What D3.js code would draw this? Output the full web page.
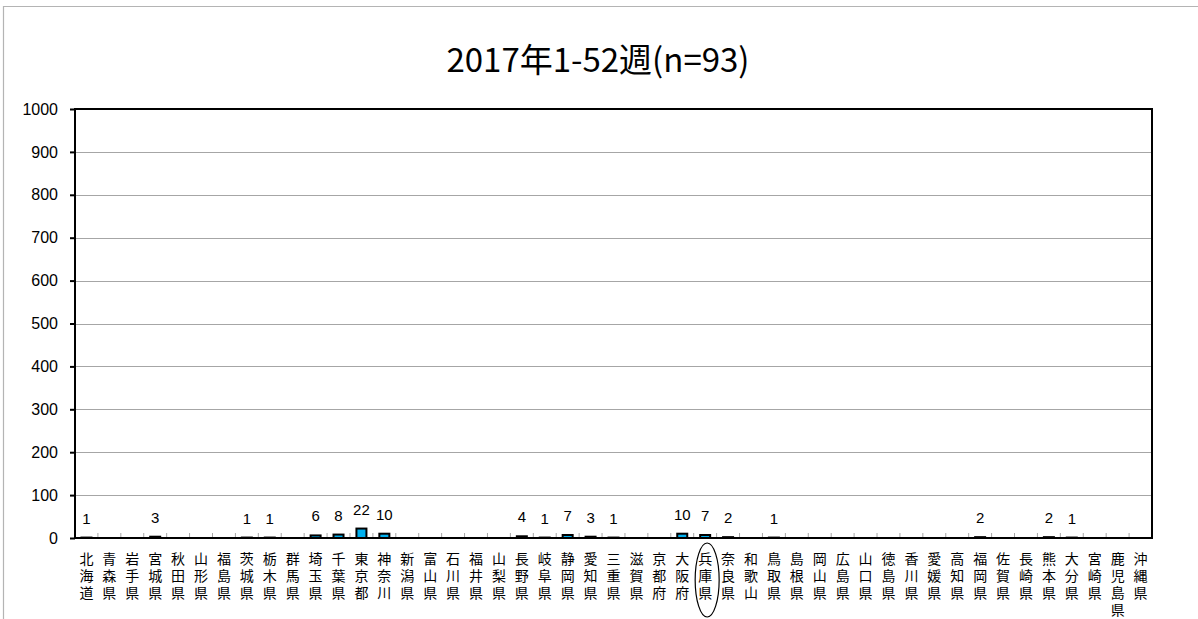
<!DOCTYPE html>
<html>
<head>
<meta charset="utf-8">
<script src="https://cdn.jsdelivr.net/npm/d3@7"></script>
<style>
  body { margin: 0; background: #fff; }
  svg { display: block; }
</style>
</head>
<body>
<div id="chart"></div>
<script>
// data
var prefectures = ["北海道","青森県","岩手県","宮城県","秋田県","山形県","福島県","茨城県","栃木県","群馬県",
  "埼玉県","千葉県","東京都","神奈川","新潟県","富山県","石川県","福井県","山梨県","長野県",
  "岐阜県","静岡県","愛知県","三重県","滋賀県","京都府","大阪府","兵庫県","奈良県","和歌山",
  "鳥取県","島根県","岡山県","広島県","山口県","徳島県","香川県","愛媛県","高知県","福岡県",
  "佐賀県","長崎県","熊本県","大分県","宮崎県","鹿児島県","沖縄県"];
var cases = [1,0,0,3,0,0,0,1,1,0,
  6,8,22,10,0,0,0,0,0,4,
  1,7,3,1,0,0,10,7,2,0,
  1,0,0,0,0,0,0,0,0,2,
  0,0,2,1,0,0,0];
var yTicks = [0,100,200,300,400,500,600,700,800,900,1000];
var titleText = "2017年1-52週(n=93)";
var circled = "兵庫県";

var W = 1198, H = 619;
var margin = {top: 109, right: 46, bottom: 81, left: 75},
  width = W - margin.left - margin.right,
  height = H - margin.top - margin.bottom;

var svg = d3.select("#chart")
  .append("svg")
  .attr("width", W)
  .attr("height", H);

// outer frame (only top and left visible)
svg.append("path")
  .attr("d", "M3.5," + H + "V6.5H" + W)
  .style("fill", "none")
  .style("stroke", "#b4b4b4")
  .style("stroke-width", 1.2);

// title
svg.append("text")
  .attr("x", 598)
  .attr("y", 72)
  .attr("text-anchor", "middle")
  .style("font-family", "'Noto Sans CJK JP', sans-serif")
  .style("font-size", "33px")
  .text(titleText);

var g = svg.append("g")
  .attr("transform", "translate(" + margin.left + "," + margin.top + ")");

var x = d3.scaleBand()
  .domain(prefectures)
  .range([0, width]);

var y = d3.scaleLinear()
  .domain([0, 1000])
  .range([height, 0]);

// gridlines
g.selectAll(".grid")
  .data(yTicks.filter(d => d > 0 && d < 1000))
  .enter()
  .append("line")
  .attr("class", "grid")
  .attr("x1", 0)
  .attr("x2", width)
  .attr("y1", d => Math.round(y(d)) + 0.5)
  .attr("y2", d => Math.round(y(d)) + 0.5)
  .style("stroke", "#a6a6a6")
  .style("stroke-width", 1);

// x ticks (inside, between categories)
g.selectAll(".xtick")
  .data(d3.range(1, prefectures.length))
  .enter()
  .append("line")
  .attr("class", "xtick")
  .attr("x1", d => x.step() * d)
  .attr("x2", d => x.step() * d)
  .attr("y1", height)
  .attr("y2", height - 5)
  .style("stroke", "#a6a6a6")
  .style("stroke-width", 1);

// y axis
var yAxis = g.append("g")
  .call(d3.axisLeft(y).tickValues(yTicks).tickFormat(d3.format("d")).tickSize(5).tickPadding(12));
yAxis.select(".domain").remove();
yAxis.selectAll("line").style("stroke", "#000").style("stroke-width", 2);
yAxis.selectAll("text")
  .style("font-family", "'Liberation Sans', Arial, sans-serif")
  .style("font-size", "16px")
  .style("fill", "#000");

// plot frame
g.append("rect")
  .attr("x", 0)
  .attr("y", 0)
  .attr("width", width)
  .attr("height", height)
  .style("fill", "none")
  .style("stroke", "#000")
  .style("stroke-width", 2);

var barData = prefectures.map((p, i) => ({name: p, value: cases[i]})).filter(d => d.value > 0);

// bars
var barW = 10;
g.selectAll(".bar")
  .data(barData)
  .enter()
  .append("rect")
  .attr("class", "bar")
  .attr("x", d => x(d.name) + x.bandwidth() / 2 - barW / 2)
  .attr("y", d => y(d.value))
  .attr("width", barW)
  .attr("height", d => height - y(d.value))
  .style("fill", "#00b0f0")
  .style("stroke", "#000")
  .style("stroke-width", 2);

// value labels
g.selectAll(".val")
  .data(barData)
  .enter()
  .append("text")
  .attr("class", "val")
  .attr("x", d => x(d.name) + x.bandwidth() / 2)
  .attr("y", d => y(d.value) - 14)
  .attr("text-anchor", "middle")
  .style("font-family", "'Liberation Sans', Arial, sans-serif")
  .style("font-size", "15px")
  .text(d => d.value);

// x labels, one character per text, stacked
var chars = [];
prefectures.forEach(function(p) {
  Array.from(p).forEach(function(c, i) { chars.push({p: p, c: c, i: i}); });
});
g.selectAll(".xlab")
  .data(chars)
  .enter()
  .append("text")
  .attr("class", "xlab")
  .attr("text-anchor", "middle")
  .attr("x", d => x(d.p) + x.bandwidth() / 2)
  .attr("y", d => height + 26 + d.i * 17)
  .style("font-family", "'Liberation Sans', 'Noto Sans CJK JP', sans-serif")
  .style("font-size", "14px")
  .text(d => d.c);

// ellipse around 兵庫県
g.append("ellipse")
  .attr("cx", x(circled) + x.bandwidth() / 2 + 2)
  .attr("cy", height + 42)
  .attr("rx", 12)
  .attr("ry", 37)
  .style("fill", "none")
  .style("stroke", "#000")
  .style("stroke-width", 1.2);
</script>
</body>
</html>
